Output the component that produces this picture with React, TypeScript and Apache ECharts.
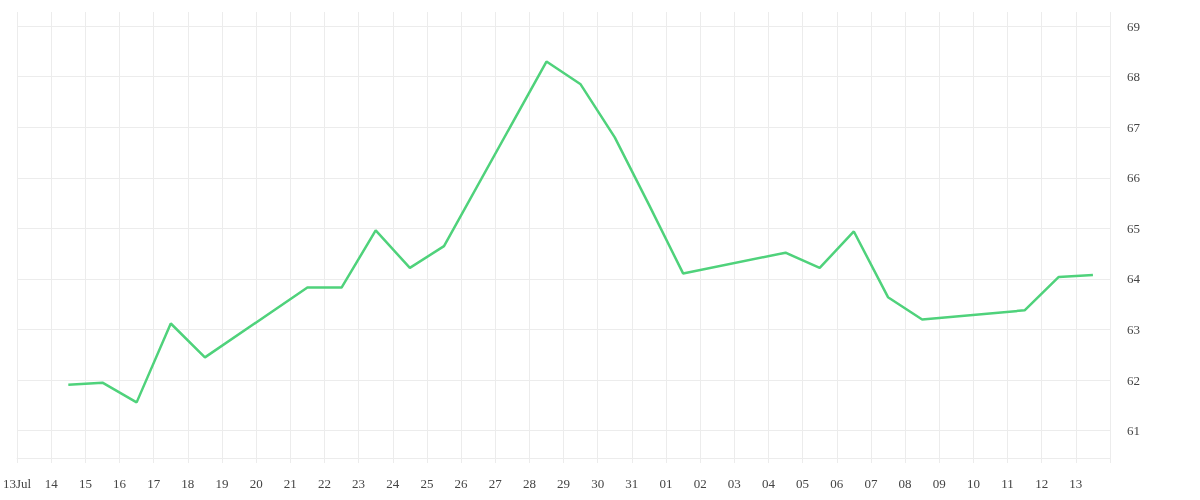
import React, { useEffect, useRef } from 'react';
import * as echarts from 'echarts';

// trading days (noon timestamps) and closing values
const days: string[] = [
  '2014-07-14', '2014-07-15', '2014-07-16', '2014-07-17', '2014-07-18',
  '2014-07-21', '2014-07-22', '2014-07-23', '2014-07-24', '2014-07-25',
  '2014-07-28', '2014-07-29', '2014-07-30', '2014-07-31', '2014-08-01',
  '2014-08-04', '2014-08-05', '2014-08-06', '2014-08-07', '2014-08-08',
  '2014-08-11', '2014-08-12', '2014-08-13',
];
const values: number[] = [
  61.91, 61.95, 61.56, 63.12, 62.45,
  63.83, 63.83, 64.96, 64.22, 64.65,
  68.30, 67.85, 66.80, 65.47, 64.11,
  64.52, 64.22, 64.94, 63.64, 63.20,
  63.38, 64.04, 64.08,
];
const axisStart = '2014-07-13';
const axisEnd = '2014-08-14';
const yMin = 60.46;
const yMax = 69.28;

const toTime = (d: string, hour = 0) => {
  const [y, m, day] = d.split('-').map(Number);
  return new Date(y, m - 1, day, hour).getTime();
};

const DAY = 24 * 3600 * 1000;
const MONTHS = ['Jan', 'Feb', 'Mar', 'Apr', 'May', 'Jun', 'Jul', 'Aug', 'Sep', 'Oct', 'Nov', 'Dec'];

const App: React.FC = () => {
  const chartRef = useRef<HTMLDivElement | null>(null);

  useEffect(() => {
    if (!chartRef.current) return;
    const chart = echarts.init(chartRef.current, undefined, { renderer: 'svg' });
    const start = toTime(axisStart);
    const end = toTime(axisEnd);
    const gridColor = '#ececec';

    const option: echarts.EChartsOption = {
      animation: false,
      textStyle: { fontFamily: 'serif' },
      grid: { left: 15, right: 90, top: 12, bottom: 42 },
      xAxis: {
        type: 'time',
        min: start,
        max: end,
        minInterval: DAY,
        maxInterval: DAY,
        axisLine: { show: true, lineStyle: { color: gridColor } },
        axisTick: { show: true, length: 5, lineStyle: { color: gridColor } },
        splitLine: { show: true, lineStyle: { color: gridColor } },
        axisLabel: {
          color: '#444',
          fontSize: 13,
          margin: 19,
          fontFamily: 'serif',
          hideOverlap: false,
          showMinLabel: true,
          formatter: (val: number) => {
            if (Math.abs(val - end) < 1000) return '';
            const d = new Date(val);
            const dd = String(d.getDate()).padStart(2, '0');
            if (Math.abs(val - start) < 1000) return dd + MONTHS[d.getMonth()];
            return dd;
          },
        },
      },
      yAxis: {
        type: 'value',
        position: 'right',
        min: yMin,
        max: yMax,
        splitNumber: 8,
        axisLine: { show: false },
        axisTick: { show: false },
        splitLine: {
          show: true,
          showMaxLine: false,
          lineStyle: { color: gridColor },
        } as any,
        axisLabel: {
          color: '#444',
          fontSize: 13,
          margin: 17,
          fontFamily: 'serif',
          formatter: (v: number) => (Math.abs(v - Math.round(v)) < 1e-6 ? String(Math.round(v)) : ''),
        },
      },
      series: [
        {
          type: 'line',
          data: days.map((d, i) => [toTime(d, 12), values[i]]),
          showSymbol: false,
          symbol: 'none',
          lineStyle: { color: '#4fd27b', width: 2.5 },
          itemStyle: { color: '#4fd27b' },
        },
      ],
    };

    chart.setOption(option);
    return () => {
      chart.dispose();
    };
  }, []);

  return <div ref={chartRef} style={{ position: 'fixed', left: 0, top: 0, width: '1200px', height: '500px' }} />;
};

export default App;
